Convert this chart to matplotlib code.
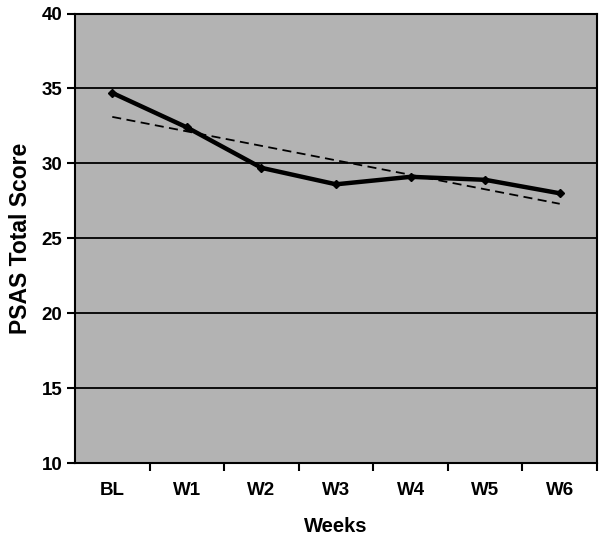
import matplotlib
matplotlib.use("Agg")
import matplotlib.pyplot as plt
import numpy as np

categories = ["BL", "W1", "W2", "W3", "W4", "W5", "W6"]
scores = [34.7, 32.4, 29.7, 28.6, 29.1, 28.9, 28.0]
trend_ends = [33.1, 27.3]  # linear trend line at BL and W6
yticks = [10, 15, 20, 25, 30, 35, 40]

plt.rcParams['font.family'] = ['Liberation Sans', 'DejaVu Sans']
plt.rcParams['font.weight'] = 'bold'

fig = plt.figure(figsize=(6.01, 5.38), dpi=100)
ax = fig.add_axes([75/601, 1-463/538, (597-75)/601, (463-13.5)/538])
ax.set_facecolor('#b3b3b3')

x = np.arange(len(categories))
ax.set_xlim(-0.5, len(categories) - 0.5)
ax.set_ylim(10, 40)

for yv in yticks[1:-1]:
    ax.axhline(yv, color='black', lw=1.3, zorder=1)

ax.plot([x[0], x[-1]], trend_ends, color='black', lw=1.3, ls=(0, (5, 3)), zorder=2)
ax.plot(x, scores, color='black', lw=3.2, marker='D', ms=4.5, zorder=3)

ax.set_yticks(yticks)
ax.set_yticklabels([str(v) for v in yticks], fontsize=13.5, fontweight='bold')
ax.set_xticks(x)
ax.set_xticklabels(categories, fontsize=13.5, fontweight='bold')
ax.tick_params(axis='x', which='major', length=0, pad=14)
ax.set_xticks(np.arange(0.5, len(categories), 1), minor=True)
ax.tick_params(axis='x', which='minor', length=6, width=1.5, direction='out')
ax.tick_params(axis='y', length=6, width=1.5, direction='out', pad=3)

for s in ax.spines.values():
    s.set_linewidth(1.5)
    s.set_color('black')

ax.set_xlabel("Weeks", fontsize=14.5, fontweight='bold', labelpad=13)
ax.set_ylabel("PSAS Total Score", fontsize=16.5, fontweight='bold', labelpad=7)

fig.savefig("out.png", dpi=100)
